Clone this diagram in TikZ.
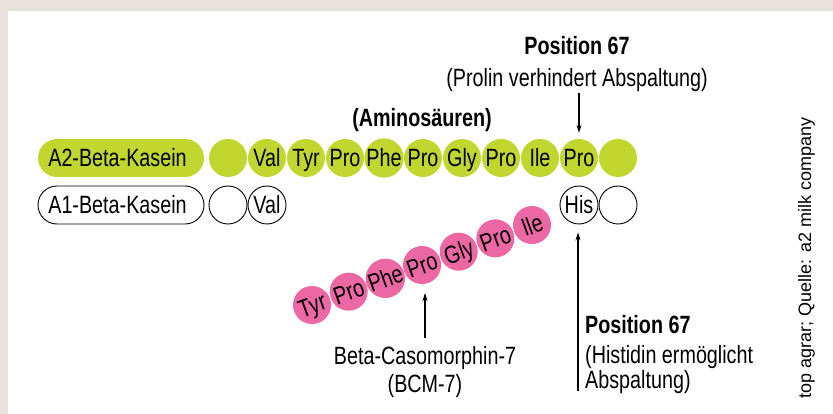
\documentclass[tikz,border=0pt]{standalone}
\usepackage{fontspec}
\setmainfont[FakeStretch=0.79]{Liberation Sans}
\newfontfamily\creditfont{Liberation Sans}
\usetikzlibrary{arrows.meta}
\definecolor{limec}{RGB}{193,215,47}
\definecolor{pinkc}{RGB}{236,104,164}
\definecolor{beigec}{RGB}{231,227,220}
\begin{document}
\begin{tikzpicture}[x=1pt,y=-1pt,
  every node/.style={font=\fontsize{25}{29}\selectfont},
  aa/.style={circle, minimum size=38pt, inner sep=0pt, text height=17.9pt, text depth=0pt},
  gc/.style={aa, fill=limec},
  wc/.style={aa, draw=black, line width=0.9pt},
  pc/.style={aa, fill=pinkc, rotate=20},
  pill/.style={rounded corners=19pt, minimum width=166pt, minimum height=38pt, inner sep=0pt, text height=17.9pt, text depth=0pt},
  lbl/.style={anchor=base, inner sep=0pt},
  lblw/.style={anchor=base west, inner sep=0pt},
  bf/.style={font=\fontsize{25}{29}\selectfont\bfseries},
  arr/.style={line width=1.1pt, -{Stealth[length=8pt,width=5pt]}},
]
\useasboundingbox (0,0) rectangle (833,414);
\fill[beigec] (0,0) rectangle (833,414);
\fill[white] (8,11) rectangle (833,414);

% A2 row
\node[pill, fill=limec] (a2) at (121,158) {\hspace*{-7pt}A2-Beta-Kasein};
\foreach \i/\t in {0/{},1/Val,2/Tyr,3/Pro,4/Phe,5/Pro,6/Gly,7/Pro,8/Ile,9/Pro,10/{}}{
  \node[gc] (g\i) at (228+39*\i,158) {\t};
}
% A1 row
\node[pill, draw=black, line width=0.9pt] (a1) at (121,205) {\hspace*{-7pt}A1-Beta-Kasein};
\node[wc] (w0) at (228,205) {};
\node[wc] (w1) at (267,205) {Val};
\node[wc] (w9) at (579,205) {His};
\node[wc] (w10) at (618,205) {};

% BCM-7 chain
\foreach \i/\t in {0/Tyr,1/Pro,2/Phe,3/Pro,4/Gly,5/Pro,6/Ile}{
  \node[pc] (p\i) at (312+36.67*\i,305-13.33*\i) {\t};
}

% labels
\node[lbl, bf] (pos1) at (577,55) {Position 67};
\node[lbl] (prolin) at (577,87) {(Prolin verhindert Abspaltung)};
\node[lbl, bf] (amino) at (422,127) {(Aminosäuren)};
\node[lbl] (bcm1) at (425,364) {Beta-Casomorphin-7};
\node[lbl] (bcm2) at (425,392) {(BCM-7)};
\node[lblw, bf] (pos2) at (585,334) {Position 67};
\node[lblw] (hist1) at (585,363) {(Histidin ermöglicht};
\node[lblw] (hist2) at (585,388) {Abspaltung)};
\node[anchor=base, inner sep=0pt, rotate=90, font=\creditfont\fontsize{18}{22}\selectfont] (credit) at (811,258) {top agrar; Quelle: a2 milk company};

% arrows
\coordinate (t1) at (579,93);
\draw[arr, shorten >=6pt] (t1) -- (g9.north);
\coordinate (b1) at (425,338);
\draw[arr, shorten >=10pt] (b1) -- (b1 |- p3.south);
\coordinate (r1) at (578,391);
\draw[arr, shorten >=8pt] (r1) -- (r1 |- w9.south);
\end{tikzpicture}
\end{document}
